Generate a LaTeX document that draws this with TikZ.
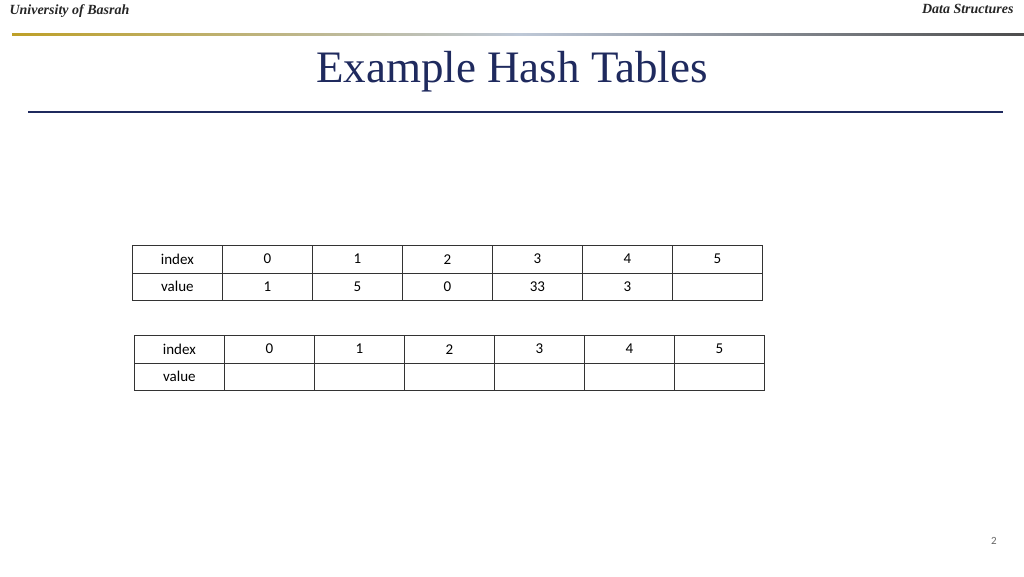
\documentclass[tikz,border=0pt]{standalone}
\usepackage{fontspec}
\setmainfont{Liberation Serif}
\newfontfamily\tabfont{Carlito}
\definecolor{navy}{RGB}{31,42,94}
\definecolor{goldc}{RGB}{190,160,40}
\definecolor{midc}{RGB}{190,200,215}
\begin{document}
\begin{tikzpicture}[x=1pt,y=-1pt,
  cell/.style={draw=black!80,line width=0.8pt,minimum width=90pt,minimum height=27.5pt,inner sep=0pt,font=\tabfont\fontsize{15}{18}\selectfont},
  hdr/.style={font=\itshape\bfseries\fontsize{14}{16}\selectfont,text=black!85}]
\useasboundingbox (0,0) rectangle (1024,576);
\node[hdr,anchor=west] (uni) at (6,11) {University of Basrah};
\node[hdr,anchor=east] (ds) at (1017,9) {Data Structures};
\shade[left color=goldc, right color=midc] (12,33) rectangle (520,35.5);
\shade[left color=midc, right color=black!70] (520,33) rectangle (1024,35.5);
\node[text=navy,font=\fontsize{45}{50}\selectfont] (title) at (512,72) {Example Hash Tables};
\fill[navy] (28,111) rectangle (1003,113);
\foreach \t/\ox/\oy/\vals in {1/132/245/{1,5,0,33,3,{}}, 2/134/335/{{},{},{},{},{},{}}}{
  \node[cell,anchor=north west] (t\t h) at (\ox,\oy) {index};
  \node[cell,anchor=north west] (t\t v) at (\ox,\oy+27.5) {value};
  \foreach \i in {0,...,5}{
    \node[cell,anchor=north west] (t\t h\i) at (\ox+90+90*\i,\oy) {\i};
  }
  \foreach \v [count=\j from 0] in \vals{
    \node[cell,anchor=north west] (t\t v\j) at (\ox+90+90*\j,\oy+27.5) {\v};
  }
}
\node[font=\tabfont\fontsize{11}{13}\selectfont,text=black!60] (pg) at (994,541) {2};
\end{tikzpicture}
\end{document}
